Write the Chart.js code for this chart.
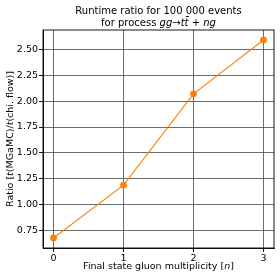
<!DOCTYPE html>
<html lang="en">
<head>
    <meta charset="UTF-8">
    <title>Runtime ratio</title>
    <script src="https://cdn.jsdelivr.net/npm/chart.js"></script>
    <style>
        html, body { margin: 0; padding: 0; background: #fff; }
        #wrap { width: 280px; height: 280px; }
    </style>
</head>
<body>
    <div id="wrap"><canvas id="chart" width="280" height="280"></canvas></div>
    <script>
        // data
        const multiplicity = [0, 1, 2, 3];
        const ratio = [0.68, 1.19, 2.07, 2.59];
        const xTicks = [0, 1, 2, 3];
        const yTicks = [0.75, 1.00, 1.25, 1.50, 1.75, 2.00, 2.25, 2.50];

        const FONT = '"DejaVu Sans", sans-serif';
        const orange = '#ff7f0e';

        // draw a line of text made of plain / italic pieces, centred at (x, y)
        function drawRich(ctx, parts, x, y, size, angle) {
            ctx.save();
            ctx.translate(x, y);
            if (angle) ctx.rotate(angle);
            ctx.fillStyle = '#000';
            ctx.textBaseline = 'middle';
            ctx.textAlign = 'left';
            let total = 0;
            parts.forEach(p => {
                ctx.font = (p[1] ? 'italic ' : '') + size + 'px ' + FONT;
                total += ctx.measureText(p[0]).width;
            });
            let cx = -total / 2;
            parts.forEach(p => {
                ctx.font = (p[1] ? 'italic ' : '') + size + 'px ' + FONT;
                ctx.fillText(p[0], cx, 0);
                cx += ctx.measureText(p[0]).width;
            });
            ctx.restore();
        }

        const labelsPlugin = {
            id: 'labels',
            afterDraw(chart) {
                const ctx = chart.ctx;
                const a = chart.chartArea;
                const mid = (a.left + a.right) / 2;
                drawRich(ctx, [['Runtime ratio for 100 000 events', false]], mid, 11, 10);
                drawRich(ctx, [['for process ', false], ['gg', true], ['\u2192', false],
                    ['t', true], ['t\u0304', true], [' + ', false], ['ng', true]], mid, 23, 10);
                drawRich(ctx, [['Final state gluon multiplicity [', false], ['n', true], [']', false]],
                    mid, 267, 9.5);
                drawRich(ctx, [['Ratio [', false], ['t', true], ['(MGaMC)/', false], ['t', true],
                    ['(chi. flow)]', false]], 10.5, (a.top + a.bottom) / 2, 9.5, -Math.PI / 2);
            }
        };

        new Chart(document.getElementById('chart').getContext('2d'), {
            type: 'scatter',
            data: {
                datasets: [{
                    data: multiplicity.map((x, i) => ({ x: x, y: ratio[i] })),
                    showLine: true,
                    borderColor: orange,
                    backgroundColor: orange,
                    borderWidth: 1.1,
                    pointRadius: 2.8,
                    pointHoverRadius: 2.8
                }]
            },
            options: {
                responsive: false,
                animation: false,
                events: [],
                layout: { padding: { left: 0, right: 6, top: 30, bottom: 0 } },
                plugins: { legend: { display: false }, tooltip: { enabled: false } },
                scales: {
                    x: {
                        type: 'linear',
                        min: -0.15,
                        max: 3.15,
                        afterBuildTicks: s => { s.ticks = xTicks.map(v => ({ value: v })); },
                        afterFit: s => { s.height = 32; },
                        grid: { color: '#5a5a5a', lineWidth: 0.9, tickColor: '#000', tickLength: 4 },
                        border: { color: '#000', width: 0.9 },
                        ticks: {
                            color: '#000', font: { family: FONT, size: 9.5 }, padding: 1,
                            maxRotation: 0, callback: v => String(v)
                        }
                    },
                    y: {
                        type: 'linear',
                        min: 0.583,
                        max: 2.686,
                        afterBuildTicks: s => { s.ticks = yTicks.map(v => ({ value: v })); },
                        afterFit: s => { s.width = 43; },
                        grid: { color: '#5a5a5a', lineWidth: 0.9, tickColor: '#000', tickLength: 4 },
                        border: { color: '#000', width: 0.9 },
                        ticks: {
                            color: '#000', font: { family: FONT, size: 9.5 }, padding: 1,
                            callback: v => v.toFixed(2)
                        }
                    }
                }
            },
            plugins: [labelsPlugin, {
                id: 'frame',
                afterDraw(chart) {
                    const ctx = chart.ctx, a = chart.chartArea;
                    ctx.save();
                    ctx.strokeStyle = '#000';
                    ctx.lineWidth = 0.9;
                    ctx.strokeRect(a.left, a.top, a.right - a.left, a.bottom - a.top);
                    ctx.restore();
                }
            }]
        });
    </script>
</body>
</html>
